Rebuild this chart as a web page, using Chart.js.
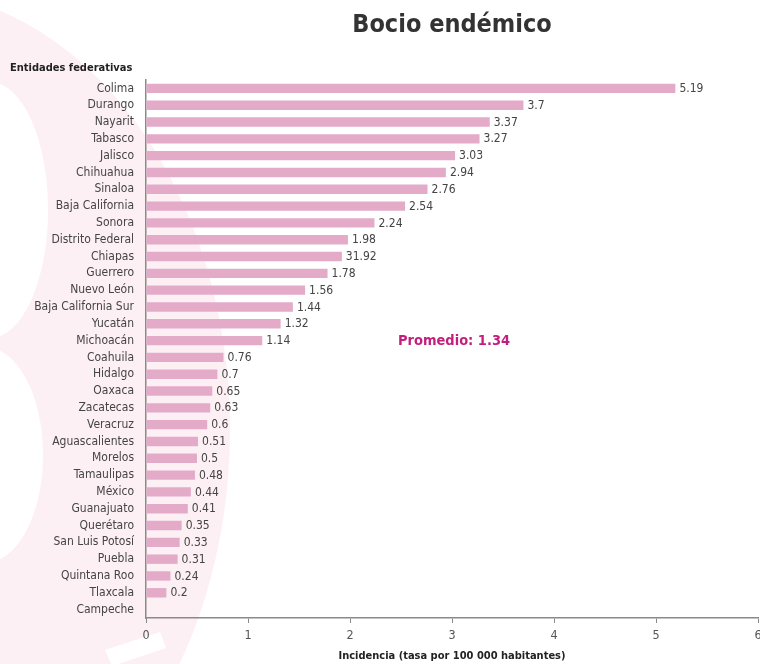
<!DOCTYPE html>
<html>
<head>
<meta charset="utf-8">
<script src="https://cdn.jsdelivr.net/npm/chart.js@4"></script>
<style>
  html, body { margin: 0; padding: 0; background: #fff; overflow: hidden; }
  #wrap { width: 770px; height: 664px; }
</style>
</head>
<body>
<div id="wrap"><canvas id="chart"></canvas></div>
<script>
// ---- data ----
const estados = [
    'Colima', 'Durango', 'Nayarit', 'Tabasco', 'Jalisco', 'Chihuahua', 'Sinaloa',
    'Baja California', 'Sonora', 'Distrito Federal', 'Chiapas', 'Guerrero',
    'Nuevo León', 'Baja California Sur', 'Yucatán', 'Michoacán', 'Coahuila',
    'Hidalgo', 'Oaxaca', 'Zacatecas', 'Veracruz', 'Aguascalientes', 'Morelos',
    'Tamaulipas', 'México', 'Guanajuato', 'Querétaro', 'San Luis Potosí',
    'Puebla', 'Quintana Roo', 'Tlaxcala', 'Campeche'
];
const incidencia = [
    5.19, 3.7, 3.37, 3.27, 3.03, 2.94, 2.76, 2.54, 2.24, 1.98, 1.92, 1.78,
    1.56, 1.44, 1.32, 1.14, 0.76, 0.7, 0.65, 0.63, 0.6, 0.51, 0.5, 0.48,
    0.44, 0.41, 0.35, 0.33, 0.31, 0.24, 0.2, null
];
// labels as printed in the source (Chiapas is printed as 31.92)
const etiquetas = [
    '5.19', '3.7', '3.37', '3.27', '3.03', '2.94', '2.76', '2.54', '2.24', '1.98', '31.92', '1.78',
    '1.56', '1.44', '1.32', '1.14', '0.76', '0.7', '0.65', '0.63', '0.6', '0.51', '0.5', '0.48',
    '0.44', '0.41', '0.35', '0.33', '0.31', '0.24', '0.2', ''
];
const xTicks = [0, 1, 2, 3, 4, 5, 6];
const promedio = 1.34;

const FONT = '"Liberation Sans Narrow", "DejaVu Sans Condensed", Arial, sans-serif';

// ---- background watermark + texts ----
const decor = {
    id: 'decor',
    beforeDraw(chart) {
        const c = chart.ctx;
        c.save();
        c.fillStyle = '#fdf0f4';
        c.beginPath();
        c.ellipse(-100, 430, 330, 440, 0, 0, Math.PI * 2);
        c.fill();
        c.fillStyle = '#ffffff';
        c.beginPath();
        c.ellipse(-10, 210, 58, 128, 0, 0, Math.PI * 2);
        c.fill();
        c.beginPath();
        c.ellipse(-15, 455, 58, 108, 0, 0, Math.PI * 2);
        c.fill();
        c.beginPath();
        c.moveTo(105, 650);
        c.lineTo(160, 632);
        c.lineTo(166, 648);
        c.lineTo(112, 666);
        c.closePath();
        c.fill();
        c.restore();
    },
    afterDraw(chart) {
        const c = chart.ctx;
        const x = chart.scales.x, y = chart.scales.y;
        const area = chart.chartArea;
        c.save();
        // title
        c.fillStyle = '#333333';
        c.font = 'bold 25px ' + FONT;
        c.textAlign = 'center';
        c.textBaseline = 'middle';
        c.fillText('Bocio endémico', (area.left + area.right) / 2, 25);
        // y axis heading
        c.fillStyle = '#222222';
        c.font = 'bold 11px ' + FONT;
        c.textAlign = 'left';
        c.fillText('Entidades federativas', 10, 68);
        // x axis title
        c.textAlign = 'center';
        c.fillText('Incidencia (tasa por 100 000 habitantes)', (area.left + area.right) / 2, 656);
        // value labels
        c.fillStyle = '#444444';
        c.font = '12px ' + FONT;
        c.textAlign = 'left';
        incidencia.forEach((v, i) => {
            if (v === null || !etiquetas[i]) return;
            c.fillText(etiquetas[i], x.getPixelForValue(v) + 4, y.getPixelForValue(i) + 0.5);
        });
        // average note
        c.fillStyle = '#c21f7c';
        c.font = 'bold 14.5px ' + FONT;
        c.fillText('Promedio: ' + promedio, x.getPixelForValue(2.47), y.getPixelForValue(15) + 0.5);
        c.restore();
    }
};

new Chart(document.getElementById('chart'), {
    type: 'bar',
    data: {
        labels: estados,
        datasets: [{
            data: incidencia,
            backgroundColor: '#e4abc9',
            borderWidth: 0,
            barPercentage: 0.56,
            categoryPercentage: 1
        }]
    },
    options: {
        indexAxis: 'y',
        responsive: true,
        maintainAspectRatio: false,
        animation: false,
        layout: { padding: { top: 80, right: 12, left: 0, bottom: 0 } },
        plugins: {
            legend: { display: false },
            title: { display: false },
            tooltip: { enabled: false }
        },
        scales: {
            x: {
                min: 0,
                max: 6,
                afterBuildTicks(scale) { scale.ticks = xTicks.map(v => ({ value: v })); },
                afterFit(scale) { scale.height = 46; },
                grid: { display: true, drawOnChartArea: false, drawTicks: true, tickLength: 5, color: '#8a8a8a', lineWidth: 1 },
                border: { display: true, color: '#8a8a8a', width: 1.5 },
                ticks: { color: '#555555', font: { family: FONT, size: 12.5 }, padding: 5, maxRotation: 0 }
            },
            y: {
                afterFit(scale) { scale.width = 146; },
                grid: { display: false, drawTicks: false, tickLength: 0 },
                border: { display: true, color: '#8a8a8a', width: 1.5 },
                ticks: { color: '#444444', font: { family: FONT, size: 12 }, padding: 12, autoSkip: false }
            }
        }
    },
    plugins: [decor]
});
</script>
</body>
</html>
